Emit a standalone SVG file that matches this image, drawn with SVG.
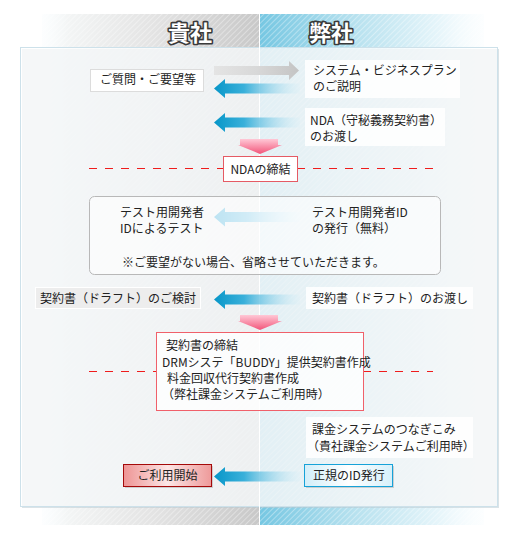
<svg xmlns="http://www.w3.org/2000/svg" width="520" height="547" viewBox="0 0 520 547">
<style>
text{font-family:"Noto Sans CJK JP","Liberation Sans",sans-serif;font-size:12px;fill:#222}
.hd{font-size:22px;font-weight:bold;fill:#fff;stroke:#3a3a3a;stroke-width:3.2px;paint-order:stroke;stroke-linejoin:round}
.wb{fill:#fff;fill-opacity:.85}
.red{stroke:#ef1c1c;stroke-width:1.2;stroke-dasharray:8 8;fill:none}
</style>
<defs>
<linearGradient id="gBand" x1="42" y1="0" x2="259" y2="0" gradientUnits="userSpaceOnUse">
<stop offset="0" stop-color="#f6fbfd" stop-opacity="0.3"/><stop offset="0.12" stop-color="#f3f5f5"/><stop offset="0.5" stop-color="#e4e4e4"/><stop offset="1" stop-color="#c8c8c8"/>
</linearGradient>
<linearGradient id="bBand" x1="260" y1="0" x2="484" y2="0" gradientUnits="userSpaceOnUse">
<stop offset="0" stop-color="#76c7e2"/><stop offset="0.4" stop-color="#b4e0ee"/><stop offset="0.8" stop-color="#e6f5fa"/><stop offset="1" stop-color="#f6fcfe" stop-opacity="0.3"/>
</linearGradient>
<pattern id="stripe" width="4" height="4" patternUnits="userSpaceOnUse" patternTransform="rotate(45)">
<rect x="0" y="0" width="1" height="4" fill="#fff"/>
</pattern>
<linearGradient id="blueArr" x1="0" y1="0" x2="1" y2="0">
<stop offset="0" stop-color="#0796c8"/><stop offset="0.35" stop-color="#3ab0da"/><stop offset="1" stop-color="#d6eff8" stop-opacity="0.2"/>
</linearGradient>
<linearGradient id="lbArr" x1="0" y1="0" x2="1" y2="0">
<stop offset="0" stop-color="#5ab9df"/><stop offset="0.4" stop-color="#8fd0ea"/><stop offset="1" stop-color="#e0f3fa" stop-opacity="0.3"/>
</linearGradient>
<linearGradient id="grayArr" x1="0" y1="0" x2="1" y2="0">
<stop offset="0" stop-color="#e4e4e4"/><stop offset="0.5" stop-color="#d8d8d8"/><stop offset="1" stop-color="#c4c4c4"/>
</linearGradient>
<linearGradient id="pinkArr" x1="0" y1="0" x2="0" y2="1">
<stop offset="0" stop-color="#ffc8d6"/><stop offset="1" stop-color="#f2557a"/>
</linearGradient>
<linearGradient id="redBtn" x1="0" y1="0" x2="1" y2="0">
<stop offset="0" stop-color="#ee9494"/><stop offset="0.5" stop-color="#fce6e6"/><stop offset="1" stop-color="#ee9a9a"/>
</linearGradient>
<linearGradient id="blueBtn" x1="0" y1="0" x2="1" y2="0">
<stop offset="0" stop-color="#d2eef9"/><stop offset="0.5" stop-color="#ffffff"/><stop offset="1" stop-color="#d6f0fa"/>
</linearGradient>
</defs>

<g id="background">
<rect x="42" y="14" width="217" height="511" fill="url(#gBand)"/>
<rect x="260" y="14" width="224" height="511" fill="url(#bBand)"/>
<rect x="42" y="14" width="442" height="511" fill="url(#stripe)" opacity="0.35"/>
<rect x="22" y="49" width="477" height="459" fill="#b8c8cf" opacity="0.5"/>
<rect x="20.5" y="47.5" width="477" height="459" fill="#fff" fill-opacity="0.72" stroke="#cde1ea"/>
<line x1="259.5" y1="14" x2="259.5" y2="525" stroke="#fff" stroke-width="1"/>
</g>

<g id="headers">
<text class="hd" x="190" y="41" text-anchor="middle">貴社</text>
<text class="hd" x="331" y="41" text-anchor="middle">弊社</text>
</g>

<g id="dividers">
<line class="red" x1="89" y1="168.5" x2="223" y2="168.5"/>
<line class="red" x1="297" y1="168.5" x2="433" y2="168.5"/>
<line class="red" x1="89" y1="371.5" x2="156" y2="371.5"/>
<line class="red" x1="363" y1="371.5" x2="433" y2="371.5"/>
</g>

<g id="connectors">
<path d="M214 66 H289 V61 L299 70.5 L289 80 V75 H214 Z" fill="url(#grayArr)"/>
<path d="M214 88.5 L225 79 V83.5 H300 V93.5 H225 V98 Z" fill="url(#blueArr)"/>
<path d="M214 122.5 L225 113 V117.5 H300 V127.5 H225 V132 Z" fill="url(#blueArr)"/>
<path d="M240 139 H278 V145 H282 L260 154 L238 145 H240 Z" fill="url(#pinkArr)"/>
<path d="M214 217 L225 207.5 V212 H300 V222 H225 V226.5 Z" fill="url(#lbArr)"/>
<path d="M214 299.5 L225 290 V294.5 H300 V304.5 H225 V309 Z" fill="url(#blueArr)"/>
<path d="M240 315 H278 V321 H282 L260 330 L238 321 H240 Z" fill="url(#pinkArr)"/>
<path d="M214 476.5 L225 467 V471.5 H300 V481.5 H225 V486 Z" fill="url(#blueArr)"/>
</g>

<g id="n-question">
<rect x="90.5" y="69.5" width="113" height="22" fill="#fff" stroke="#dcdcdc"/>
<text x="100" y="84">ご質問・ご要望等</text>
</g>
<g id="n-plan">
<rect class="wb" x="305" y="60" width="155" height="38"/>
<text x="313" y="75">システム・ビジネスプラン</text>
<text x="313" y="91">のご説明</text>
</g>
<g id="n-nda-give">
<rect class="wb" x="305" y="108" width="140" height="38"/>
<text x="310" y="125">NDA（守秘義務契約書）</text>
<text x="310" y="141">のお渡し</text>
</g>
<g id="n-nda">
<rect x="223.5" y="156.5" width="74" height="25" fill="#fff" stroke="#e55a64"/>
<text x="260.5" y="174" text-anchor="middle">NDAの締結</text>
</g>
<g id="n-test">
<rect x="89.5" y="196.5" width="351" height="78" rx="5" fill="#fff" fill-opacity="0.6" stroke="#b8b8b8"/>
<text x="120" y="217">テスト用開発者</text>
<text x="120" y="233">IDによるテスト</text>
<text x="312" y="217">テスト用開発者ID</text>
<text x="312" y="233">の発行（無料）</text>
<text x="122" y="267">※ご要望がない場合、省略させていただきます。</text>
</g>
<g id="n-draft-review">
<rect x="35.5" y="287.5" width="165" height="21" fill="#ededed" stroke="#fff"/>
<text x="40" y="303">契約書（ドラフト）のご検討</text>
</g>
<g id="n-draft-give">
<rect class="wb" x="306" y="287" width="167" height="22"/>
<text x="312" y="303">契約書（ドラフト）のお渡し</text>
</g>
<g id="n-contract">
<rect x="156.5" y="332.5" width="207" height="78" fill="#fff" fill-opacity="0.8" stroke="#f0606a"/>
<text x="166" y="350">契約書の締結</text>
<text x="162" y="367">DRMシステ「BUDDY」提供契約書作成</text>
<text x="167" y="383">料金回収代行契約書作成</text>
<text x="162" y="399">（弊社課金システムご利用時）</text>
</g>
<g id="n-billing">
<rect class="wb" x="306" y="417" width="167" height="41"/>
<text x="312" y="434">課金システムのつなぎこみ</text>
<text x="307" y="451">（貴社課金システムご利用時）</text>
</g>
<g id="n-start">
<rect x="125" y="466" width="88" height="22" fill="#999" opacity="0.4"/>
<rect x="123.5" y="464.5" width="88" height="22" fill="url(#redBtn)" stroke="#a40a0a"/>
<text x="167.5" y="480" text-anchor="middle">ご利用開始</text>
</g>
<g id="n-id">
<rect x="306" y="466" width="88" height="22" fill="#999" opacity="0.4"/>
<rect x="304.5" y="464.5" width="88" height="22" fill="url(#blueBtn)" stroke="#16a2d8"/>
<text x="313" y="480">正規のID発行</text>
</g>
</svg>
